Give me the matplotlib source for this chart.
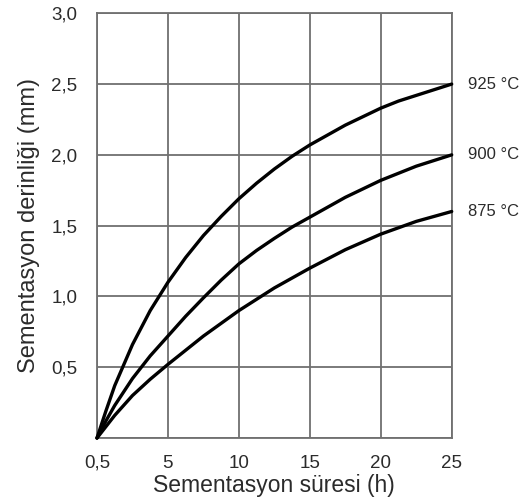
import matplotlib
matplotlib.use("Agg")
import matplotlib.pyplot as plt

# x positions are evenly spaced categories (hours)
x_labels = ["0,5", "5", "10", "15", "20", "25"]
pos = [0, 0.125, 0.25, 0.5, 0.75, 1, 1.25, 1.5, 1.75, 2, 2.25, 2.5, 2.75,
       3, 3.25, 3.5, 3.75, 4, 4.25, 4.5, 4.75, 5]

depth_925 = [0, 0.19, 0.37, 0.66, 0.90, 1.10, 1.275, 1.43, 1.565, 1.69, 1.80, 1.90, 1.99,
             2.07, 2.14, 2.21, 2.27, 2.33, 2.38, 2.42, 2.46, 2.50]
depth_900 = [0, 0.12, 0.23, 0.42, 0.58, 0.72, 0.86, 0.99, 1.115, 1.23, 1.325, 1.41, 1.49,
             1.56, 1.63, 1.70, 1.76, 1.82, 1.87, 1.92, 1.96, 2.00]
depth_875 = [0, 0.08, 0.16, 0.30, 0.415, 0.52, 0.62, 0.72, 0.81, 0.90, 0.98, 1.06, 1.13,
             1.20, 1.265, 1.33, 1.385, 1.44, 1.485, 1.53, 1.565, 1.60]

series_labels = ["925 °C", "900 °C", "875 °C"]
y_ticks = [0.5, 1.0, 1.5, 2.0, 2.5, 3.0]
y_tick_labels = ["0,5", "1,0", "1,5", "2,0", "2,5", "3,0"]

plt.rcParams['font.family'] = ['Liberation Sans', 'DejaVu Sans']
text_color = "#2b2b2b"
grid_color = "#707070"

fig = plt.figure(figsize=(5.24, 5.01), dpi=100)
ax = fig.add_axes([97/524, 1-438/501, (451.7-97)/524, (438-13.3)/501])

ax.set_xlim(0, 5)
ax.set_ylim(0, 3.0)
ax.set_xticks(range(len(x_labels)))
ax.set_xticklabels(x_labels)
ax.set_yticks([0] + y_ticks)
ax.set_yticklabels([""] + y_tick_labels)
ax.tick_params(length=0, labelsize=13.5, colors=text_color, pad=14)
ax.tick_params(axis='x', pad=12)
ax.grid(True, color=grid_color, linewidth=1.3)
for s in ax.spines.values():
    s.set_color(grid_color)
    s.set_linewidth(1.3)

for ys, lab in zip([depth_925, depth_900, depth_875], series_labels):
    ax.plot(pos, ys, color="black", linewidth=2.4, solid_capstyle="round",
            solid_joinstyle="round", clip_on=False, zorder=3)
    ax.annotate(lab, xy=(pos[-1], ys[-1]), xytext=(12, 0), textcoords="offset points",
                va="center", ha="left", fontsize=12, color=text_color, annotation_clip=False)

ax.set_xlabel("Sementasyon süresi (h)", fontsize=16.5, color=text_color, labelpad=2)
ax.set_ylabel("Sementasyon derinliği (mm)", fontsize=17, color=text_color, labelpad=8)

fig.savefig("out.png", dpi=100)
